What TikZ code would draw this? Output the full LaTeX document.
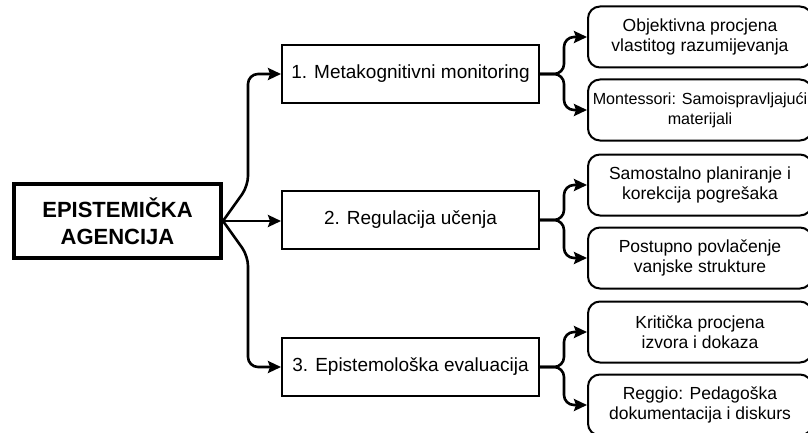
\documentclass[tikz,border=0pt]{standalone}
\usepackage{fontspec}
\setmainfont{Liberation Sans}
\usetikzlibrary{positioning, arrows.meta, calc}

\begin{document}
\begin{tikzpicture}[
    x=1pt, y=-1pt,
    root/.style={draw, line width=4pt, minimum width=207pt, minimum height=74pt, align=center, font=\fontsize{22}{27}\selectfont\bfseries},
    stage/.style={draw, line width=2pt, minimum width=257pt, minimum height=58pt, font=\fontsize{19}{22}\selectfont},
    leaf/.style={draw, line width=2pt, rounded corners=12pt, minimum width=224pt, minimum height=61pt, align=center, font=\fontsize{17.5}{20.5}\selectfont},
    arrow/.style={-{Stealth[length=13pt, width=12pt, inset=2pt]}, line width=2.6pt, rounded corners=10pt}
]
    \useasboundingbox (0,0) rectangle (808,433);
    \fill[white] (0,0) rectangle (808,433);

    % Root
    \node[root] (root) at (117.5, 221) {EPISTEMIČKA\\AGENCIJA};

    % Stages
    \node[stage] (s1) at (410.5, 74) {1. Metakognitivni monitoring};
    \node[stage] (s2) at (410.5, 220) {2. Regulacija učenja};
    \node[stage] (s3) at (410.5, 367) {3. Epistemološka evaluacija};

    % Leaves
    \node[leaf] (l1) at (700, 37) {Objektivna procjena\\vlastitog razumijevanja};
    \node[leaf, font=\fontsize{16.1}{20.5}\selectfont] (l2) at (700, 110) {Montessori: Samoispravljajući\\materijali};
    \node[leaf] (l3) at (700, 185) {Samostalno planiranje i\\korekcija pogrešaka};
    \node[leaf] (l4) at (700, 258) {Postupno povlačenje\\vanjske strukture};
    \node[leaf] (l5) at (700, 332) {Kritička procjena\\izvora i dokaza};
    \node[leaf] (l6) at (700, 405) {Reggio: Pedagoška\\dokumentacija i diskurs};

    % Root to stages
    \draw[arrow] (root.east) -- ++(25,-35) |- (s1.west);
    \draw[arrow] (root.east) -- (root.east -| s2.west);
    \draw[arrow] (root.east) -- ++(25,35) |- (s3.west);

    % Stages to leaves
    \draw[arrow] (s1.east) -- ++(24,0) |- (l1.west);
    \draw[arrow] (s1.east) -- ++(24,0) |- (l2.west);
    \draw[arrow] (s2.east) -- ++(24,0) |- (l3.west);
    \draw[arrow] (s2.east) -- ++(24,0) |- (l4.west);
    \draw[arrow] (s3.east) -- ++(24,0) |- (l5.west);
    \draw[arrow] (s3.east) -- ++(24,0) |- (l6.west);

\end{tikzpicture}
\end{document}
